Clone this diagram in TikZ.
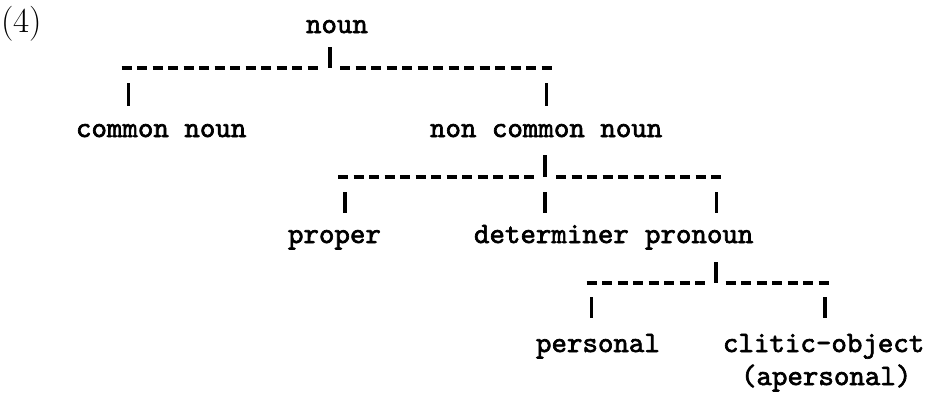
\documentclass[tikz,border=0pt]{standalone}
\usepackage{fontspec}
\newfontfamily\heavytt{lmmono10-regular.otf}[FakeBold=2.2]
\begin{document}
\begin{tikzpicture}[x=1pt,y=-1pt,
  lbl/.style={anchor=base west,inner sep=0pt,outer sep=0pt,
    font=\fontsize{29.5}{35}\heavytt},
  vbar/.style={line width=3.3pt},
  hdash/.style={line width=3.2pt,dash pattern=on 10pt off 5.5pt}]
\useasboundingbox (0,0) rectangle (926,394);
\node[anchor=base west,inner sep=0pt,font=\fontsize{35}{40}\selectfont\rmfamily] (ex) at (1,32) {(4)};
% labels
\node[lbl] (noun) at (306,33) {noun};
\node[lbl] (common) at (76,137) {common noun};
\node[lbl] (noncommon) at (430,137) {non common noun};
\node[lbl] (proper) at (288,243) {proper};
\node[lbl] (determiner) at (474,243) {determiner};
\node[lbl] (pronoun) at (645,243) {pronoun};
\node[lbl] (personal) at (536,352) {personal};
\node[lbl] (clitic) at (723,352) {clitic-object};
\node[lbl] (apersonal) at (741,385) {(apersonal)};
% junctions
\coordinate (j1) at (330,68);
\coordinate (j2) at (545,177);
\coordinate (j3) at (716,283);
% level 1
\draw[vbar] (330,47) -- (j1);
\draw[hdash] (121.7,68) -- (319,68);
\draw[hdash] (340,68) -- (553,68);
\draw[vbar] (128.3,83) -- (128.3,106);
\draw[vbar] (546.7,83) -- (546.7,106);
% level 2
\draw[vbar] (545,155) -- (j2);
\draw[hdash] (338,177) -- (535,177);
\draw[hdash] (556,177) -- (722,177);
\draw[vbar] (345,192) -- (345,213);
\draw[vbar] (545,192) -- (545,213);
\draw[vbar] (716.7,192) -- (716.7,213);
% level 3
\draw[vbar] (716,262) -- (j3);
\draw[hdash] (586.7,283) -- (706.5,283);
\draw[hdash] (725.7,283) -- (829.5,283);
\draw[vbar] (591.7,297) -- (591.7,318);
\draw[vbar] (825,297) -- (825,318);
\end{tikzpicture}
\end{document}
